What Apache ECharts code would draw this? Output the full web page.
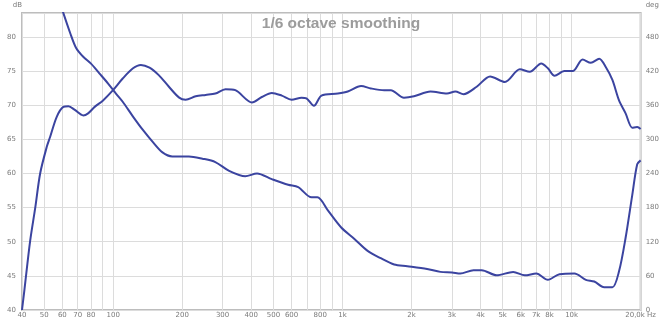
<!DOCTYPE html>
<html>
<head>
<meta charset="utf-8">
<script src="https://cdn.jsdelivr.net/npm/echarts@6/dist/echarts.min.js"></script>
<style>
  html, body { margin: 0; padding: 0; background: #fff; }
  #chart { width: 662px; height: 321px; }
</style>
</head>
<body>
<div id="chart"></div>
<script>
// Frequency response (dB, left axis) and phase (deg, right axis), 1/6 octave smoothing
const magFreq = [40, 41, 43.4, 45.7, 48, 51.3, 53, 56.7, 60.6, 63.8, 68, 74, 77.7, 83, 90.3, 99.8, 110, 122, 132, 144, 158, 175, 194, 207, 229, 253, 279, 309, 341, 403, 445, 492, 544, 600, 663, 697, 751, 810, 955, 1055, 1206, 1332, 1521, 1626, 1856, 2051, 2422, 2858, 3109, 3375, 3853, 4407, 5117, 5944, 6567, 7369, 7876, 8423, 9303, 10110, 11164, 12129, 13191, 14086, 15060, 16097, 17196, 18384, 19322, 20000];
const magDb = [40.0, 43, 50.1, 55, 60, 63.9, 65.3, 68.3, 69.75, 69.85, 69.3, 68.5, 68.8, 69.75, 70.7, 72.2, 73.9, 75.4, 75.9, 75.5, 74.4, 72.7, 71.1, 70.8, 71.3, 71.5, 71.7, 72.35, 72.2, 70.4, 71.2, 71.8, 71.4, 70.8, 71.1, 71.0, 69.9, 71.4, 71.7, 72.0, 72.8, 72.45, 72.2, 72.2, 71.1, 71.3, 72.0, 71.7, 72.0, 71.6, 72.7, 74.2, 73.4, 75.25, 74.9, 76.1, 75.4, 74.3, 75.0, 75.0, 76.7, 76.2, 76.8, 75.6, 73.7, 70.7, 68.8, 66.7, 66.8, 66.5];

const phaseFreq = [58, 65, 69, 74, 80, 87, 95, 103, 110, 122, 135, 149, 164, 181, 214, 245, 279, 319, 377, 424, 492, 580, 641, 733, 778, 864, 988, 1128, 1288, 1470, 1681, 1919, 2342, 2677, 3006, 3267, 3730, 4052, 4707, 5559, 6245, 7009, 7876, 8851, 10281, 11538, 12550, 13865, 15060, 16097, 17196, 18384, 19322, 20000];
const phaseDeg = [545, 486, 460, 445, 433, 416, 398, 380, 366, 340, 316, 295, 277, 270, 270, 266, 260, 245, 235, 240, 230, 220, 216, 198, 198, 175, 145, 125, 104, 91, 80, 77, 72, 67, 66, 64, 70, 70, 61, 67, 61, 64, 53, 63, 64, 53, 50, 40, 40, 68, 127, 202, 256, 263];

// Frequency grid lines and the labels printed under them
const gridFreqs = [40, 50, 60, 70, 80, 90, 100, 200, 300, 400, 500, 600, 700, 800, 900, 1000, 2000, 3000, 4000, 5000, 6000, 7000, 8000, 9000, 10000, 20000];
const freqLabels = {
  40: '40', 50: '50', 60: '60', 70: '70', 80: '80', 100: '100',
  200: '200', 300: '300', 400: '400', 500: '500', 600: '600', 800: '800',
  1000: '1k', 2000: '2k', 3000: '3k', 4000: '4k', 5000: '5k', 6000: '6k',
  7000: '7k', 8000: '8k', 10000: '10k', 20000: '20,0k Hz'
};

const dbMin = 40, dbMax = 83.5, dbStep = 5;
const degMin = 0, degMax = 522, degStep = 60;

const lineColor = '#3b44a0';
const labelStyle = { color: '#7a7a7a', fontSize: 7, fontFamily: 'DejaVu Sans' };

const chart = echarts.init(document.getElementById('chart'), null, { renderer: 'canvas' });

chart.setOption({
  animation: false,
  backgroundColor: '#fff',
  grid: {
    left: 22, right: 17, top: 13, bottom: 11,
    show: true, borderColor: '#bdbdbd', borderWidth: 2, backgroundColor: 'transparent'
  },
  title: {
    text: '1/6 octave smoothing',
    left: 336, top: 11, textAlign: 'center',
    textStyle: { color: '#9c9c9c', fontSize: 15.5, fontWeight: 'bold', fontFamily: 'Liberation Sans' }
  },
  xAxis: {
    type: 'log', logBase: 10, min: 40, max: 20000,
    axisLine: { show: false },
    axisTick: { show: false, customValues: gridFreqs },
    axisLabel: {
      show: true, ...labelStyle, margin: 2,
      customValues: gridFreqs.filter(f => freqLabels[f] !== undefined),
      formatter: v => freqLabels[Math.round(v)] || ''
    },
    splitLine: { show: true, lineStyle: { color: '#dcdcdc', width: 1 } },
    minorTick: { show: false }, minorSplitLine: { show: false }
  },
  yAxis: [
    {
      type: 'value', min: dbMin, max: dbMax, interval: dbStep,
      name: 'dB', nameGap: 4, nameLocation: 'end',
      nameTextStyle: { ...labelStyle, align: 'right', padding: [0, 0, 0, 0] },
      axisLine: { show: false }, axisTick: { show: false },
      axisLabel: { ...labelStyle, margin: 6, showMaxLabel: false,
        formatter: v => (v % dbStep === 0 ? String(v) : '') },
      splitLine: { show: true, lineStyle: { color: '#dcdcdc', width: 1 } }
    },
    {
      type: 'value', min: degMin, max: degMax, interval: degStep,
      name: 'deg', nameGap: 4, nameLocation: 'end',
      nameTextStyle: { ...labelStyle, align: 'left', padding: [0, 0, 0, 5] },
      axisLine: { show: false }, axisTick: { show: false },
      axisLabel: { ...labelStyle, margin: 5, showMaxLabel: false,
        formatter: v => (v % degStep === 0 ? String(v) : '') },
      splitLine: { show: false }
    }
  ],
  series: [
    {
      name: 'Magnitude', type: 'line', yAxisIndex: 0,
      data: magFreq.map((f, i) => [f, magDb[i]]),
      showSymbol: false, smooth: 0.3, clip: true,
      lineStyle: { color: lineColor, width: 2 }
    },
    {
      name: 'Phase', type: 'line', yAxisIndex: 1,
      data: phaseFreq.map((f, i) => [f, phaseDeg[i]]),
      showSymbol: false, smooth: 0.3, clip: true,
      lineStyle: { color: lineColor, width: 2 }
    }
  ]
});
</script>
</body>
</html>
